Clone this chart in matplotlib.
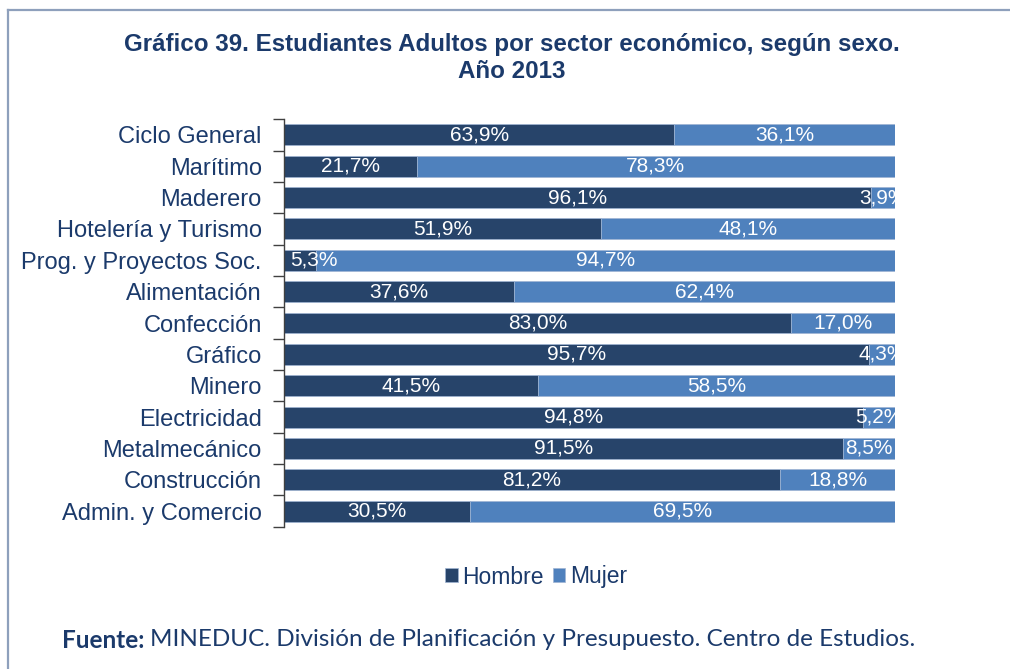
import matplotlib.pyplot as plt
from matplotlib.lines import Line2D

sectores = ["Ciclo General", "Marítimo", "Maderero", "Hotelería y Turismo",
            "Prog. y Proyectos Soc.", "Alimentación", "Confección", "Gráfico",
            "Minero", "Electricidad", "Metalmecánico", "Construcción",
            "Admin. y Comercio"]
hombre = [63.9, 21.7, 96.1, 51.9, 5.3, 37.6, 83.0, 95.7, 41.5, 94.8, 91.5, 81.2, 30.5]
mujer = [36.1, 78.3, 3.9, 48.1, 94.7, 62.4, 17.0, 4.3, 58.5, 5.2, 8.5, 18.8, 69.5]

C_H = "#27446A"
C_M = "#4F81BD"
C_TXT = "#1B3A6B"
SANS = "Liberation Sans"

W, H = 1010, 669
fig = plt.figure(figsize=(W / 100, H / 100), dpi=100)
fig.patch.set_facecolor("white")

ax = fig.add_axes([284 / W, 1 - 526.7 / H, (895 - 284) / W, (526.7 - 119.3) / H])

y = list(range(len(sectores)))
bh = 0.67
ax.barh(y, hombre, height=bh, color=C_H, edgecolor="#9FB4D3", linewidth=0.5, label="Hombre")
ax.barh(y, mujer, left=hombre, height=bh, color=C_M, edgecolor="#9FB4D3", linewidth=0.5,
        label="Mujer")

fmt = lambda v: f"{v:.1f}%".replace(".", ",")
for i, (h, m) in enumerate(zip(hombre, mujer)):
    if h < 8:
        ax.text(1.0, i, fmt(h), ha="left", va="center", color="white",
                fontsize=15, family=SANS, clip_on=True)
    else:
        ax.text(h / 2, i, fmt(h), ha="center", va="center", color="white",
                fontsize=15, family=SANS, clip_on=True)
    ax.text(h + m / 2, i, fmt(m), ha="center", va="center", color="white",
            fontsize=15, family=SANS, clip_on=True)

ax.set_xlim(0, 100)
ax.set_ylim(len(sectores) - 0.5, -0.5)
ax.set_yticks(y)
ax.set_yticklabels(sectores, fontsize=17, family=SANS, color=C_TXT)
ax.set_yticks([k - 0.5 for k in range(len(sectores) + 1)], minor=True)
ax.tick_params(axis="y", which="major", length=0, pad=16)
ax.tick_params(axis="y", which="minor", length=8, width=1, color="#404040")
ax.set_xticks([])
for s in ("top", "right", "bottom"):
    ax.spines[s].set_visible(False)
ax.spines["left"].set_color("#404040")
ax.spines["left"].set_linewidth(1)

fig.text(0.507, 1 - 45 / H, "Gráfico 39. Estudiantes Adultos por sector económico, según sexo.",
         ha="center", va="center", fontsize=17.4, fontweight="bold",
         family=SANS, color=C_TXT)
fig.text(0.507, 1 - 72 / H, "Año 2013", ha="center", va="center", fontsize=17.4,
         fontweight="bold", family=SANS, color=C_TXT)

fig.legend(loc="center", bbox_to_anchor=(536 / W, 1 - 577 / H), ncol=2, frameon=False,
           prop={"family": SANS, "size": 16.5}, labelcolor=C_TXT,
           handlelength=0.55, handleheight=0.55, handletextpad=0.2, columnspacing=0.4)

t1 = fig.text(62 / W, 1 - 640 / H, "Fuente:", ha="left", va="center", fontsize=17.5,
              fontweight="bold", family="Lato", color=C_TXT)
fig.canvas.draw()
bb = t1.get_window_extent()
fig.text((bb.x1 + 6) / W, 1 - 640 / H,
         "MINEDUC. División de Planificación y Presupuesto. Centro de Estudios.",
         ha="left", va="center", fontsize=17.5, family="Lato", color=C_TXT)

frame = "#8EA0BC"
fig.add_artist(Line2D([7.5 / W, 1], [1 - 9.5 / H, 1 - 9.5 / H], color=frame, lw=1.6,
                      transform=fig.transFigure))
fig.add_artist(Line2D([7.5 / W, 7.5 / W], [0, 1 - 9.5 / H], color=frame, lw=1.6,
                      transform=fig.transFigure))

fig.savefig("out.png", dpi=100)
